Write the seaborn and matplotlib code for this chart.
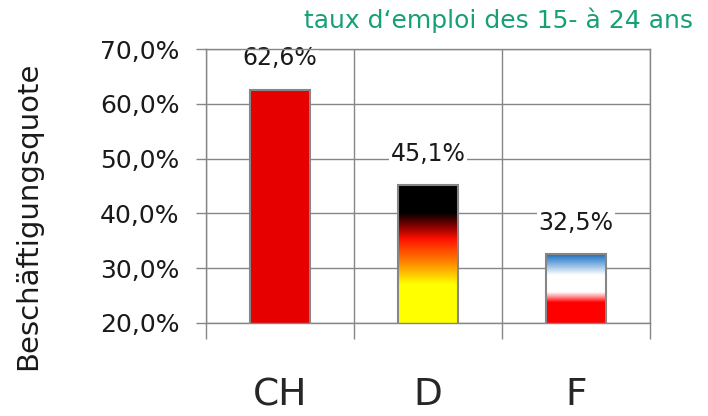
import numpy as np
import matplotlib
matplotlib.use("Agg")
import matplotlib.pyplot as plt
from matplotlib.colors import LinearSegmentedColormap
import seaborn as sns

# data
countries = ["CH", "D", "F"]
rates = [0.626, 0.451, 0.325]
y_ticks = [0.2, 0.3, 0.4, 0.5, 0.6, 0.7]
title = "taux d\u2018emploi des 15- \u00e0 24 ans"
ylabel = "Besch\u00e4ftigungsquote"

GRID = "#868686"

sns.set_style("white")
plt.rcParams["font.family"] = ["DejaVu Sans"]

fig = plt.figure(figsize=(7.08, 4.16), dpi=100)
ax = fig.add_axes([0.291, 0.2236, 0.627, 0.6586])

sns.barplot(x=countries, y=rates, hue=countries, legend=False,
            palette=["#e60000", "white", "white"], width=0.405,
            edgecolor=GRID, linewidth=1.5, saturation=1, ax=ax)

bars = [p for p in ax.patches if p.get_height() > 0]

ax.set_xlim(-0.5, 2.5)
ax.set_ylim(0.2, 0.7)
ymin = ax.get_ylim()[0]

# flag gradients for D and F (top -> bottom of visible bar)
grads = {
    "D": [(0.0, "#000000"), (0.2, "#000000"), (0.3, "#8a0000"), (0.39, "#ff1000"),
          (0.57, "#ff8c00"), (0.72, "#ffff00"), (1.0, "#ffff00")],
    "F": [(0.0, "#1f6fbf"), (0.12, "#6fa6dc"), (0.3, "#ffffff"), (0.55, "#ffffff"),
          (0.62, "#ff9090"), (0.7, "#ff0000"), (1.0, "#ff0000")],
}
for patch, name in zip(bars, countries):
    if name not in grads:
        continue
    cmap = LinearSegmentedColormap.from_list(name, grads[name])
    x0, w = patch.get_x(), patch.get_width()
    top = patch.get_y() + patch.get_height()
    img = ax.imshow(np.linspace(0, 1, 256).reshape(-1, 1), cmap=cmap,
                    extent=(x0, x0 + w, ymin, top), origin="upper",
                    aspect="auto", zorder=2)
    img.set_clip_path(patch)
    patch.set_facecolor("none")
    patch.set_zorder(3)

ax.set_xlim(-0.5, 2.5)
ax.set_ylim(0.2, 0.7)

ax.set_yticks(y_ticks)
ax.set_yticklabels([f"{v*100:.1f}%".replace(".", ",") for v in y_ticks])
ax.set_xticks([0, 1, 2])
ax.set_xticklabels(countries)
ax.set_xticks([-0.5, 0.5, 1.5, 2.5], minor=True)

ax.tick_params(axis="y", which="major", direction="out", length=7, width=1,
               color=GRID, pad=12, labelsize=18, labelcolor="#1a1a1a", left=True)
ax.tick_params(axis="x", which="major", length=0, pad=39, labelsize=27)
ax.tick_params(axis="x", which="minor", direction="out", length=11.5, width=1,
               color=GRID, bottom=True)

ax.set_axisbelow(True)
ax.grid(axis="y", which="major", color=GRID, linewidth=1)
ax.grid(axis="x", which="minor", color=GRID, linewidth=1)
for s in ax.spines.values():
    s.set_color(GRID)
    s.set_linewidth(1)

for patch, v in zip(bars, rates):
    t = ax.annotate(f"{v*100:.1f}%".replace(".", ","),
                    xy=(patch.get_x() + patch.get_width() / 2, patch.get_y() + patch.get_height()),
                    xytext=(0, 14), textcoords="offset points",
                    ha="center", va="bottom", fontsize=17, color="#1a1a1a",
                    bbox=dict(facecolor="white", edgecolor="none", pad=1),
                    zorder=1.5, annotation_clip=False)
    t.set_clip_on(True)

ax.set_ylabel(ylabel, fontsize=21, color="#1a1a1a")
ax.yaxis.set_label_coords(-0.369, 0.39)

fig.text(0.979, 0.952, title, ha="right", va="center", fontsize=18,
         color="#16a075")

fig.savefig("out.png", dpi=100)
